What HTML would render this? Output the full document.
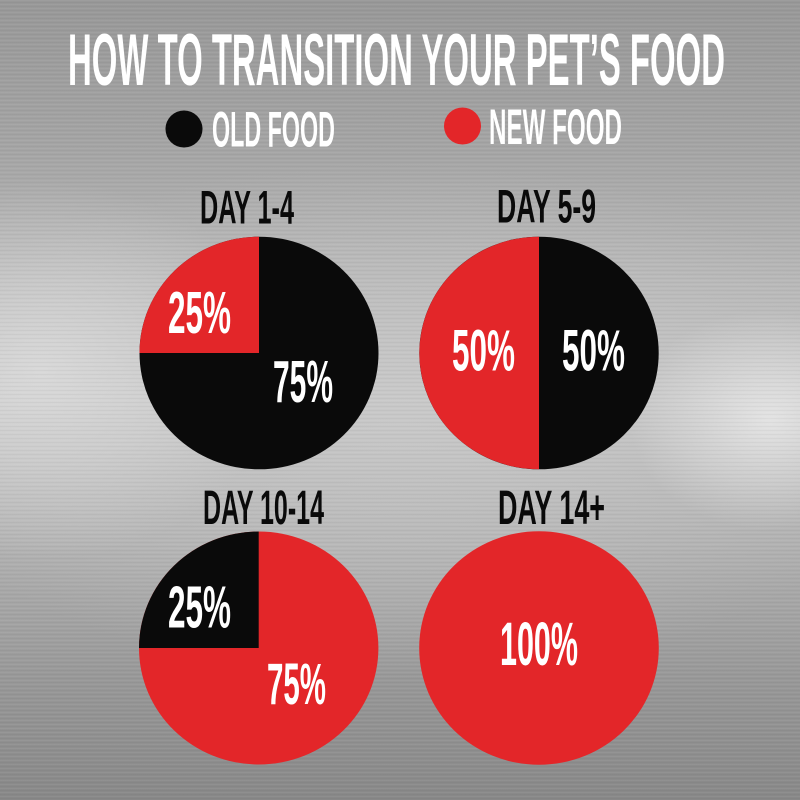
<!DOCTYPE html>
<html>
<head>
<meta charset="utf-8">
<style>
html,body{margin:0;padding:0;width:800px;height:800px;overflow:hidden;}
body{
  background:
    radial-gradient(ellipse 140px 110px at 770px 420px, rgba(240,240,240,0.7), rgba(240,240,240,0) 100%),
    radial-gradient(ellipse 240px 190px at 40px 370px, rgba(225,225,225,0.7), rgba(225,225,225,0) 100%),
    radial-gradient(ellipse 520px 260px at 400px 420px, rgba(205,205,205,0.55), rgba(205,205,205,0) 100%),
    linear-gradient(180deg,#989898 0%,#a4a4a4 18%,#b7b7b7 35%,#c4c4c4 50%,#b0b0b0 68%,#989898 85%,#888888 100%);
}
svg{position:absolute;left:0;top:0;}
.t{font-family:"Liberation Sans Narrow","Liberation Sans",sans-serif;font-weight:bold;}
</style>
</head>
<body>
<svg width="800" height="800" viewBox="0 0 800 800" xmlns="http://www.w3.org/2000/svg">
  <defs>
    <pattern id="brush" width="800" height="4" patternUnits="userSpaceOnUse">
      <rect x="0" y="0" width="800" height="1" fill="#ffffff" opacity="0.05"/>
      <rect x="0" y="2" width="800" height="1" fill="#000000" opacity="0.03"/>
    </pattern>
  </defs>
  <rect x="0" y="0" width="800" height="800" fill="url(#brush)"/>

  <!-- Title -->
  <text class="t" x="68" y="85" font-size="73" fill="#ffffff" textLength="657" lengthAdjust="spacingAndGlyphs">HOW TO TRANSITION YOUR PET’S FOOD</text>

  <!-- Legend -->
  <ellipse cx="184" cy="129" rx="18.5" ry="18.5" fill="#0a0a0a"/>
  <text class="t" x="212" y="146.7" font-size="50.5" fill="#ffffff" textLength="123" lengthAdjust="spacingAndGlyphs">OLD FOOD</text>
  <ellipse cx="462.5" cy="126" rx="18.5" ry="18.5" fill="#e32629"/>
  <text class="t" x="489" y="144" font-size="50.5" fill="#ffffff" textLength="133" lengthAdjust="spacingAndGlyphs">NEW FOOD</text>

  <!-- Day labels -->
  <text class="t" x="200" y="223.3" font-size="47" fill="#0a0a0a" textLength="94" lengthAdjust="spacingAndGlyphs">DAY 1-4</text>
  <text class="t" x="497" y="222.7" font-size="47" fill="#0a0a0a" textLength="99" lengthAdjust="spacingAndGlyphs">DAY 5-9</text>
  <text class="t" x="203" y="524" font-size="48" fill="#0a0a0a" textLength="121" lengthAdjust="spacingAndGlyphs">DAY 10-14</text>
  <text class="t" x="498" y="524" font-size="48" fill="#0a0a0a" textLength="107" lengthAdjust="spacingAndGlyphs">DAY 14+</text>

  <!-- Pie 1 -->
  <ellipse cx="259" cy="353" rx="119.5" ry="116.3" fill="#0a0a0a"/>
  <path d="M259,353 L139.5,353 A119.5,116.3 0 0 1 259,236.7 Z" fill="#e32629"/>
  <text class="t" x="168" y="333" font-size="59" fill="#ffffff" textLength="63" lengthAdjust="spacingAndGlyphs">25%</text>
  <text class="t" x="273" y="402" font-size="59" fill="#ffffff" textLength="60" lengthAdjust="spacingAndGlyphs">75%</text>

  <!-- Pie 2 -->
  <ellipse cx="539" cy="353" rx="119.7" ry="116.3" fill="#0a0a0a"/>
  <path d="M539,236.7 A119.7,116.3 0 0 0 539,469.3 Z" fill="#e32629"/>
  <text class="t" x="452" y="370.7" font-size="58" fill="#ffffff" textLength="63" lengthAdjust="spacingAndGlyphs">50%</text>
  <text class="t" x="562" y="370.7" font-size="58" fill="#ffffff" textLength="63" lengthAdjust="spacingAndGlyphs">50%</text>

  <!-- Pie 3 -->
  <ellipse cx="258.7" cy="648" rx="119.7" ry="116.5" fill="#e32629"/>
  <path d="M258.7,648 L139,648 A119.7,116.5 0 0 1 258.7,531.5 Z" fill="#0a0a0a"/>
  <text class="t" x="168" y="627.3" font-size="59" fill="#ffffff" textLength="63" lengthAdjust="spacingAndGlyphs">25%</text>
  <text class="t" x="267" y="704" font-size="58" fill="#ffffff" textLength="59" lengthAdjust="spacingAndGlyphs">75%</text>

  <!-- Pie 4 -->
  <ellipse cx="539" cy="648" rx="119.8" ry="116.8" fill="#e32629"/>
  <text class="t" x="500" y="665" font-size="61" fill="#ffffff" textLength="78" lengthAdjust="spacingAndGlyphs">100%</text>
</svg>
</body>
</html>
